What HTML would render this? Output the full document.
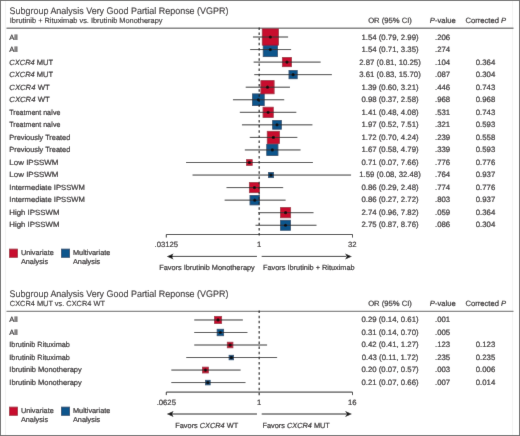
<!DOCTYPE html>
<html><head><meta charset="utf-8"><style>
html,body{margin:0;padding:0;background:#fff;}
body{width:520px;height:436px;overflow:hidden;position:relative;}
svg{position:absolute;left:0;top:0;}
text{font-family:"Liberation Sans", sans-serif;fill:#231f20;text-rendering:geometricPrecision;stroke:#231f20;stroke-width:0.2px;}
</style></head><body>
<svg width="520" height="436" viewBox="0 0 520 436">
<defs><filter id="bl" x="0" y="0" width="520" height="436" filterUnits="userSpaceOnUse"><feConvolveMatrix order="3" kernelMatrix="0.00524 0.06192 0.00524 0.06192 0.73137 0.06192 0.00524 0.06192 0.00524" edgeMode="duplicate" preserveAlpha="true"/></filter></defs>
<g filter="url(#bl)">
<rect x="0.5" y="0.5" width="519" height="435" fill="#fff" stroke="#707070" stroke-width="1"/>
<line x1="5.5" y1="1" x2="5.5" y2="435" stroke="#f3f3f3" stroke-width="1"/>
<line x1="512.5" y1="1" x2="512.5" y2="435" stroke="#f3f3f3" stroke-width="1"/>
<text transform="translate(9.60 13.80) scale(0.994 1.06)" font-size="9" text-anchor="start" style="stroke-width:0.1px">Subgroup Analysis Very Good Partial Reponse (VGPR)</text>
<text transform="translate(9.80 22.90) scale(0.994 1.0)" font-size="7.45" text-anchor="start" style="stroke-width:0.14px">Ibrutinib + Rituximab vs. Ibrutinib Monotherapy</text>
<text transform="translate(390.00 23.10) scale(1.000 1.0)" font-size="7.65" text-anchor="middle">OR (95% CI)</text>
<text transform="translate(442.80 23.10) scale(1.000 1.0)" font-size="7.65" text-anchor="middle"><tspan font-style="italic">P</tspan>-value</text>
<text transform="translate(485.80 23.10) scale(1.000 1.0)" font-size="7.65" text-anchor="middle">Corrected <tspan font-style="italic">P</tspan></text>
<line x1="6.5" y1="28.25" x2="513.5" y2="28.25" stroke="#808080" stroke-width="1.3"/>
<text transform="translate(9.30 39.70) scale(1.000 1.0)" font-size="7.55" text-anchor="start">All</text>
<text transform="translate(390.00 39.70) scale(1.000 1.0)" font-size="7.8" text-anchor="middle">1.54 (0.79, 2.99)</text>
<text transform="translate(442.60 39.70) scale(1.000 1.0)" font-size="7.8" text-anchor="middle">.206</text>
<text transform="translate(9.30 52.21) scale(1.000 1.0)" font-size="7.55" text-anchor="start">All</text>
<text transform="translate(390.00 52.21) scale(1.000 1.0)" font-size="7.8" text-anchor="middle">1.54 (0.71, 3.35)</text>
<text transform="translate(442.60 52.21) scale(1.000 1.0)" font-size="7.8" text-anchor="middle">.274</text>
<text transform="translate(9.30 64.72) scale(0.995 1.0)" font-size="7.55" text-anchor="start"><tspan font-style="italic">CXCR4</tspan> MUT</text>
<text transform="translate(390.00 64.72) scale(1.000 1.0)" font-size="7.8" text-anchor="middle">2.87 (0.81, 10.25)</text>
<text transform="translate(442.60 64.72) scale(1.000 1.0)" font-size="7.8" text-anchor="middle">.104</text>
<text transform="translate(485.50 64.72) scale(1.000 1.0)" font-size="7.8" text-anchor="middle">0.364</text>
<text transform="translate(9.30 77.23) scale(0.995 1.0)" font-size="7.55" text-anchor="start"><tspan font-style="italic">CXCR4</tspan> MUT</text>
<text transform="translate(390.00 77.23) scale(1.000 1.0)" font-size="7.8" text-anchor="middle">3.61 (0.83, 15.70)</text>
<text transform="translate(442.60 77.23) scale(1.000 1.0)" font-size="7.8" text-anchor="middle">.087</text>
<text transform="translate(485.50 77.23) scale(1.000 1.0)" font-size="7.8" text-anchor="middle">0.304</text>
<text transform="translate(9.30 89.74) scale(1.023 1.0)" font-size="7.55" text-anchor="start"><tspan font-style="italic">CXCR4</tspan> WT</text>
<text transform="translate(390.00 89.74) scale(1.000 1.0)" font-size="7.8" text-anchor="middle">1.39 (0.60, 3.21)</text>
<text transform="translate(442.60 89.74) scale(1.000 1.0)" font-size="7.8" text-anchor="middle">.446</text>
<text transform="translate(485.50 89.74) scale(1.000 1.0)" font-size="7.8" text-anchor="middle">0.743</text>
<text transform="translate(9.30 102.25) scale(1.023 1.0)" font-size="7.55" text-anchor="start"><tspan font-style="italic">CXCR4</tspan> WT</text>
<text transform="translate(390.00 102.25) scale(1.000 1.0)" font-size="7.8" text-anchor="middle">0.98 (0.37, 2.58)</text>
<text transform="translate(442.60 102.25) scale(1.000 1.0)" font-size="7.8" text-anchor="middle">.968</text>
<text transform="translate(485.50 102.25) scale(1.000 1.0)" font-size="7.8" text-anchor="middle">0.968</text>
<text transform="translate(9.30 114.76) scale(0.935 1.0)" font-size="7.55" text-anchor="start">Treatment naïve</text>
<text transform="translate(390.00 114.76) scale(1.000 1.0)" font-size="7.8" text-anchor="middle">1.41 (0.48, 4.08)</text>
<text transform="translate(442.60 114.76) scale(1.000 1.0)" font-size="7.8" text-anchor="middle">.531</text>
<text transform="translate(485.50 114.76) scale(1.000 1.0)" font-size="7.8" text-anchor="middle">0.743</text>
<text transform="translate(9.30 127.27) scale(0.935 1.0)" font-size="7.55" text-anchor="start">Treatment naïve</text>
<text transform="translate(390.00 127.27) scale(1.000 1.0)" font-size="7.8" text-anchor="middle">1.97 (0.52, 7.51)</text>
<text transform="translate(442.60 127.27) scale(1.000 1.0)" font-size="7.8" text-anchor="middle">.321</text>
<text transform="translate(485.50 127.27) scale(1.000 1.0)" font-size="7.8" text-anchor="middle">0.593</text>
<text transform="translate(9.30 139.78) scale(0.975 1.0)" font-size="7.55" text-anchor="start">Previously Treated</text>
<text transform="translate(390.00 139.78) scale(1.000 1.0)" font-size="7.8" text-anchor="middle">1.72 (0.70, 4.24)</text>
<text transform="translate(442.60 139.78) scale(1.000 1.0)" font-size="7.8" text-anchor="middle">.239</text>
<text transform="translate(485.50 139.78) scale(1.000 1.0)" font-size="7.8" text-anchor="middle">0.558</text>
<text transform="translate(9.30 152.29) scale(0.975 1.0)" font-size="7.55" text-anchor="start">Previously Treated</text>
<text transform="translate(390.00 152.29) scale(1.000 1.0)" font-size="7.8" text-anchor="middle">1.67 (0.58, 4.79)</text>
<text transform="translate(442.60 152.29) scale(1.000 1.0)" font-size="7.8" text-anchor="middle">.339</text>
<text transform="translate(485.50 152.29) scale(1.000 1.0)" font-size="7.8" text-anchor="middle">0.593</text>
<text transform="translate(9.30 164.80) scale(1.056 1.0)" font-size="7.55" text-anchor="start">Low IPSSWM</text>
<text transform="translate(390.00 164.80) scale(1.000 1.0)" font-size="7.8" text-anchor="middle">0.71 (0.07, 7.66)</text>
<text transform="translate(442.60 164.80) scale(1.000 1.0)" font-size="7.8" text-anchor="middle">.776</text>
<text transform="translate(485.50 164.80) scale(1.000 1.0)" font-size="7.8" text-anchor="middle">0.776</text>
<text transform="translate(9.30 177.31) scale(1.056 1.0)" font-size="7.55" text-anchor="start">Low IPSSWM</text>
<text transform="translate(390.00 177.31) scale(1.000 1.0)" font-size="7.8" text-anchor="middle">1.59 (0.08, 32.48)</text>
<text transform="translate(442.60 177.31) scale(1.000 1.0)" font-size="7.8" text-anchor="middle">.764</text>
<text transform="translate(485.50 177.31) scale(1.000 1.0)" font-size="7.8" text-anchor="middle">0.937</text>
<text transform="translate(9.30 189.82) scale(1.011 1.0)" font-size="7.55" text-anchor="start">Intermediate IPSSWM</text>
<text transform="translate(390.00 189.82) scale(1.000 1.0)" font-size="7.8" text-anchor="middle">0.86 (0.29, 2.48)</text>
<text transform="translate(442.60 189.82) scale(1.000 1.0)" font-size="7.8" text-anchor="middle">.774</text>
<text transform="translate(485.50 189.82) scale(1.000 1.0)" font-size="7.8" text-anchor="middle">0.776</text>
<text transform="translate(9.30 202.33) scale(1.011 1.0)" font-size="7.55" text-anchor="start">Intermediate IPSSWM</text>
<text transform="translate(390.00 202.33) scale(1.000 1.0)" font-size="7.8" text-anchor="middle">0.86 (0.27, 2.72)</text>
<text transform="translate(442.60 202.33) scale(1.000 1.0)" font-size="7.8" text-anchor="middle">.803</text>
<text transform="translate(485.50 202.33) scale(1.000 1.0)" font-size="7.8" text-anchor="middle">0.937</text>
<text transform="translate(9.30 214.84) scale(1.040 1.0)" font-size="7.55" text-anchor="start">High IPSSWM</text>
<text transform="translate(390.00 214.84) scale(1.000 1.0)" font-size="7.8" text-anchor="middle">2.74 (0.96, 7.82)</text>
<text transform="translate(442.60 214.84) scale(1.000 1.0)" font-size="7.8" text-anchor="middle">.059</text>
<text transform="translate(485.50 214.84) scale(1.000 1.0)" font-size="7.8" text-anchor="middle">0.364</text>
<text transform="translate(9.30 227.35) scale(1.040 1.0)" font-size="7.55" text-anchor="start">High IPSSWM</text>
<text transform="translate(390.00 227.35) scale(1.000 1.0)" font-size="7.8" text-anchor="middle">2.75 (0.87, 8.76)</text>
<text transform="translate(442.60 227.35) scale(1.000 1.0)" font-size="7.8" text-anchor="middle">.086</text>
<text transform="translate(485.50 227.35) scale(1.000 1.0)" font-size="7.8" text-anchor="middle">0.304</text>
<rect x="263.20" y="42.45" width="14.20" height="14.20" fill="#0f558c" stroke="#0b3d63" stroke-width="0.8"/>
<rect x="289.00" y="70.55" width="8.20" height="8.20" fill="#0f558c" stroke="#0b3d63" stroke-width="0.8"/>
<rect x="252.50" y="93.90" width="11.70" height="11.70" fill="#0f558c" stroke="#0b3d63" stroke-width="0.8"/>
<rect x="272.65" y="120.50" width="8.70" height="8.70" fill="#0f558c" stroke="#0b3d63" stroke-width="0.8"/>
<rect x="266.75" y="144.35" width="11.20" height="11.20" fill="#0f558c" stroke="#0b3d63" stroke-width="0.8"/>
<rect x="268.40" y="172.45" width="5.20" height="5.20" fill="#0f558c" stroke="#0b3d63" stroke-width="0.8"/>
<rect x="250.00" y="195.40" width="9.50" height="9.50" fill="#0f558c" stroke="#0b3d63" stroke-width="0.8"/>
<rect x="280.50" y="220.25" width="10.00" height="10.00" fill="#0f558c" stroke="#0b3d63" stroke-width="0.8"/>
<rect x="262.25" y="28.90" width="16.20" height="16.20" fill="#c8102e" stroke="#9a0f2c" stroke-width="0.8"/>
<rect x="282.35" y="57.50" width="9.20" height="9.20" fill="#c8102e" stroke="#9a0f2c" stroke-width="0.8"/>
<rect x="260.90" y="80.60" width="13.20" height="13.20" fill="#c8102e" stroke="#9a0f2c" stroke-width="0.8"/>
<rect x="263.05" y="107.20" width="10.20" height="10.20" fill="#c8102e" stroke="#9a0f2c" stroke-width="0.8"/>
<rect x="267.25" y="131.30" width="12.20" height="12.20" fill="#c8102e" stroke="#9a0f2c" stroke-width="0.8"/>
<rect x="246.50" y="159.65" width="5.70" height="5.70" fill="#c8102e" stroke="#9a0f2c" stroke-width="0.8"/>
<rect x="249.35" y="182.50" width="10.20" height="10.20" fill="#c8102e" stroke="#9a0f2c" stroke-width="0.8"/>
<rect x="280.45" y="207.60" width="10.20" height="10.20" fill="#c8102e" stroke="#9a0f2c" stroke-width="0.8"/>
<line x1="252.98" y1="37.00" x2="288.12" y2="37.00" stroke="#333" stroke-width="1"/>
<line x1="250.16" y1="49.55" x2="291.12" y2="49.55" stroke="#333" stroke-width="1"/>
<line x1="253.64" y1="62.10" x2="320.64" y2="62.10" stroke="#333" stroke-width="1"/>
<line x1="254.28" y1="74.65" x2="331.90" y2="74.65" stroke="#333" stroke-width="1"/>
<line x1="245.71" y1="87.20" x2="289.99" y2="87.20" stroke="#333" stroke-width="1"/>
<line x1="232.95" y1="99.75" x2="284.22" y2="99.75" stroke="#333" stroke-width="1"/>
<line x1="239.82" y1="112.30" x2="296.32" y2="112.30" stroke="#333" stroke-width="1"/>
<line x1="241.94" y1="124.85" x2="312.43" y2="124.85" stroke="#333" stroke-width="1"/>
<line x1="249.78" y1="137.40" x2="297.34" y2="137.40" stroke="#333" stroke-width="1"/>
<line x1="244.82" y1="149.95" x2="300.56" y2="149.95" stroke="#333" stroke-width="1"/>
<line x1="186.00" y1="162.50" x2="312.95" y2="162.50" stroke="#333" stroke-width="1"/>
<line x1="192.52" y1="175.05" x2="351.09" y2="175.05" stroke="#333" stroke-width="1"/>
<line x1="226.52" y1="187.60" x2="283.18" y2="187.60" stroke="#333" stroke-width="1"/>
<line x1="224.63" y1="200.15" x2="285.62" y2="200.15" stroke="#333" stroke-width="1"/>
<line x1="258.12" y1="212.70" x2="313.50" y2="212.70" stroke="#333" stroke-width="1"/>
<line x1="255.52" y1="225.25" x2="316.50" y2="225.25" stroke="#333" stroke-width="1"/>
<line x1="259.2" y1="27.45" x2="259.2" y2="237.7" stroke="#1a1a1a" stroke-width="1.2" stroke-dasharray="2.5 2.64"/>
<circle cx="270.35" cy="37.00" r="1.6" fill="#111"/>
<circle cx="270.30" cy="49.55" r="1.6" fill="#111"/>
<circle cx="286.95" cy="62.10" r="1.6" fill="#111"/>
<circle cx="293.10" cy="74.65" r="1.6" fill="#111"/>
<circle cx="267.50" cy="87.20" r="1.6" fill="#111"/>
<circle cx="258.35" cy="99.75" r="1.6" fill="#111"/>
<circle cx="268.15" cy="112.30" r="1.6" fill="#111"/>
<circle cx="277.00" cy="124.85" r="1.6" fill="#111"/>
<circle cx="273.35" cy="137.40" r="1.6" fill="#111"/>
<circle cx="272.35" cy="149.95" r="1.6" fill="#111"/>
<circle cx="249.35" cy="162.50" r="1.6" fill="#111"/>
<circle cx="271.00" cy="175.05" r="1.6" fill="#111"/>
<circle cx="254.45" cy="187.60" r="1.6" fill="#111"/>
<circle cx="254.75" cy="200.15" r="1.6" fill="#111"/>
<circle cx="285.55" cy="212.70" r="1.6" fill="#111"/>
<circle cx="285.50" cy="225.25" r="1.6" fill="#111"/>
<path d="M166.3 237.5 V234.5 H352.5 V237.5" fill="none" stroke="#222" stroke-width="1"/>
<text transform="translate(166.30 246.90) scale(1.000 1.0)" font-size="7.7" text-anchor="middle">.03125</text>
<text transform="translate(259.20 246.90) scale(1.000 1.0)" font-size="7.7" text-anchor="middle">1</text>
<text transform="translate(352.30 246.90) scale(1.000 1.0)" font-size="7.7" text-anchor="middle">32</text>
<line x1="172" y1="256.4" x2="257" y2="256.4" stroke="#222" stroke-width="1"/>
<path d="M166.8 256.4 L173.5 253.39999999999998 L172 256.4 L173.5 259.4 Z" fill="#111"/>
<line x1="261.7" y1="256.4" x2="346" y2="256.4" stroke="#222" stroke-width="1"/>
<path d="M351.9 256.4 L345.2 253.39999999999998 L346.7 256.4 L345.2 259.4 Z" fill="#111"/>
<text transform="translate(159.20 269.80) scale(1.000 1.0)" font-size="7.35" text-anchor="start">Favors Ibrutinib Monotherapy</text>
<text transform="translate(263.00 269.80) scale(1.000 1.0)" font-size="7.35" text-anchor="start">Favors Ibrutinib + Rituximab</text>
<rect x="9.4" y="249.1" width="8.2" height="8.2" fill="#c8102e" stroke="#9a0f2c" stroke-width="0.8"/>
<rect x="61.4" y="249.1" width="8.2" height="8.2" fill="#0f558c" stroke="#0b3d63" stroke-width="0.8"/>
<text transform="translate(20.90 254.50) scale(1.000 1.0)" font-size="7.3" text-anchor="start">Univariate</text>
<text transform="translate(20.90 263.80) scale(1.000 1.0)" font-size="7.3" text-anchor="start">Analysis</text>
<text transform="translate(73.00 254.50) scale(1.000 1.0)" font-size="7.3" text-anchor="start">Multivariate</text>
<text transform="translate(73.00 263.80) scale(1.000 1.0)" font-size="7.3" text-anchor="start">Analysis</text>
<text transform="translate(9.60 296.90) scale(0.994 1.06)" font-size="9" text-anchor="start" style="stroke-width:0.1px">Subgroup Analysis Very Good Partial Reponse (VGPR)</text>
<text transform="translate(9.80 306.00) scale(0.994 1.0)" font-size="7.45" text-anchor="start" style="stroke-width:0.14px">CXCR4 MUT vs. CXCR4 WT</text>
<text transform="translate(390.00 306.20) scale(1.000 1.0)" font-size="7.65" text-anchor="middle">OR (95% CI)</text>
<text transform="translate(442.80 306.20) scale(1.000 1.0)" font-size="7.65" text-anchor="middle"><tspan font-style="italic">P</tspan>-value</text>
<text transform="translate(485.80 306.20) scale(1.000 1.0)" font-size="7.65" text-anchor="middle">Corrected <tspan font-style="italic">P</tspan></text>
<line x1="6.5" y1="311.35" x2="513.5" y2="311.35" stroke="#808080" stroke-width="1.3"/>
<text transform="translate(9.30 322.15) scale(1.000 1.0)" font-size="7.55" text-anchor="start">All</text>
<text transform="translate(390.00 322.15) scale(1.000 1.0)" font-size="7.8" text-anchor="middle">0.29 (0.14, 0.61)</text>
<text transform="translate(442.60 322.15) scale(1.000 1.0)" font-size="7.8" text-anchor="middle">.001</text>
<text transform="translate(9.30 334.70) scale(1.000 1.0)" font-size="7.55" text-anchor="start">All</text>
<text transform="translate(390.00 334.70) scale(1.000 1.0)" font-size="7.8" text-anchor="middle">0.31 (0.14, 0.70)</text>
<text transform="translate(442.60 334.70) scale(1.000 1.0)" font-size="7.8" text-anchor="middle">.005</text>
<text transform="translate(9.30 347.25) scale(0.969 1.0)" font-size="7.55" text-anchor="start">Ibrutinib Rituximab</text>
<text transform="translate(390.00 347.25) scale(1.000 1.0)" font-size="7.8" text-anchor="middle">0.42 (0.41, 1.27)</text>
<text transform="translate(442.60 347.25) scale(1.000 1.0)" font-size="7.8" text-anchor="middle">.123</text>
<text transform="translate(485.50 347.25) scale(1.000 1.0)" font-size="7.8" text-anchor="middle">0.123</text>
<text transform="translate(9.30 359.80) scale(0.969 1.0)" font-size="7.55" text-anchor="start">Ibrutinib Rituximab</text>
<text transform="translate(390.00 359.80) scale(1.000 1.0)" font-size="7.8" text-anchor="middle">0.43 (0.11, 1.72)</text>
<text transform="translate(442.60 359.80) scale(1.000 1.0)" font-size="7.8" text-anchor="middle">.235</text>
<text transform="translate(485.50 359.80) scale(1.000 1.0)" font-size="7.8" text-anchor="middle">0.235</text>
<text transform="translate(9.30 372.35) scale(0.993 1.0)" font-size="7.55" text-anchor="start">Ibrutinib Monotherapy</text>
<text transform="translate(390.00 372.35) scale(1.000 1.0)" font-size="7.8" text-anchor="middle">0.20 (0.07, 0.57)</text>
<text transform="translate(442.60 372.35) scale(1.000 1.0)" font-size="7.8" text-anchor="middle">.003</text>
<text transform="translate(485.50 372.35) scale(1.000 1.0)" font-size="7.8" text-anchor="middle">0.006</text>
<text transform="translate(9.30 384.90) scale(0.993 1.0)" font-size="7.55" text-anchor="start">Ibrutinib Monotherapy</text>
<text transform="translate(390.00 384.90) scale(1.000 1.0)" font-size="7.8" text-anchor="middle">0.21 (0.07, 0.66)</text>
<text transform="translate(442.60 384.90) scale(1.000 1.0)" font-size="7.8" text-anchor="middle">.007</text>
<text transform="translate(485.50 384.90) scale(1.000 1.0)" font-size="7.8" text-anchor="middle">0.014</text>
<rect x="217.15" y="329.24" width="6.50" height="6.50" fill="#0f558c" stroke="#0b3d63" stroke-width="0.8"/>
<rect x="229.10" y="355.28" width="4.50" height="4.50" fill="#0f558c" stroke="#0b3d63" stroke-width="0.8"/>
<rect x="205.55" y="380.27" width="4.60" height="4.60" fill="#0f558c" stroke="#0b3d63" stroke-width="0.8"/>
<rect x="214.45" y="316.37" width="7.20" height="7.20" fill="#c8102e" stroke="#9a0f2c" stroke-width="0.8"/>
<rect x="227.30" y="342.21" width="5.60" height="5.60" fill="#c8102e" stroke="#9a0f2c" stroke-width="0.8"/>
<rect x="202.55" y="367.15" width="5.80" height="5.80" fill="#c8102e" stroke="#9a0f2c" stroke-width="0.8"/>
<line x1="194.24" y1="319.97" x2="242.87" y2="319.97" stroke="#333" stroke-width="1"/>
<line x1="194.24" y1="332.49" x2="247.42" y2="332.49" stroke="#333" stroke-width="1"/>
<line x1="194.24" y1="345.01" x2="267.10" y2="345.01" stroke="#333" stroke-width="1"/>
<line x1="186.28" y1="357.53" x2="277.12" y2="357.53" stroke="#333" stroke-width="1"/>
<line x1="171.34" y1="370.05" x2="240.63" y2="370.05" stroke="#333" stroke-width="1"/>
<line x1="171.34" y1="382.57" x2="245.47" y2="382.57" stroke="#333" stroke-width="1"/>
<line x1="259.2" y1="310.55" x2="259.2" y2="395.3" stroke="#1a1a1a" stroke-width="1.2" stroke-dasharray="2.5 2.64"/>
<circle cx="218.05" cy="319.97" r="1.6" fill="#111"/>
<circle cx="220.40" cy="332.49" r="1.6" fill="#111"/>
<circle cx="230.10" cy="345.01" r="1.6" fill="#111"/>
<circle cx="231.35" cy="357.53" r="1.6" fill="#111"/>
<circle cx="205.45" cy="370.05" r="1.6" fill="#111"/>
<circle cx="207.85" cy="382.57" r="1.6" fill="#111"/>
<path d="M166.3 395.1 V392.1 H352.5 V395.1" fill="none" stroke="#222" stroke-width="1"/>
<text transform="translate(166.30 404.80) scale(1.000 1.0)" font-size="7.7" text-anchor="middle">.0625</text>
<text transform="translate(259.20 404.80) scale(1.000 1.0)" font-size="7.7" text-anchor="middle">1</text>
<text transform="translate(352.30 404.80) scale(1.000 1.0)" font-size="7.7" text-anchor="middle">16</text>
<line x1="172" y1="414.0" x2="257" y2="414.0" stroke="#222" stroke-width="1"/>
<path d="M166.8 414.0 L173.5 411.0 L172 414.0 L173.5 417.0 Z" fill="#111"/>
<line x1="261.7" y1="414.0" x2="346" y2="414.0" stroke="#222" stroke-width="1"/>
<path d="M351.9 414.0 L345.2 411.0 L346.7 414.0 L345.2 417.0 Z" fill="#111"/>
<text transform="translate(175.30 427.50) scale(1.000 1.0)" font-size="7.35" text-anchor="start">Favors <tspan font-style="italic">CXCR4</tspan> WT</text>
<text transform="translate(262.50 427.50) scale(1.000 1.0)" font-size="7.35" text-anchor="start">Favors <tspan font-style="italic">CXCR4</tspan> MUT</text>
<rect x="9.4" y="407.09999999999997" width="8.2" height="8.2" fill="#c8102e" stroke="#9a0f2c" stroke-width="0.8"/>
<rect x="61.4" y="407.09999999999997" width="8.2" height="8.2" fill="#0f558c" stroke="#0b3d63" stroke-width="0.8"/>
<text transform="translate(20.90 412.50) scale(1.000 1.0)" font-size="7.3" text-anchor="start">Univariate</text>
<text transform="translate(20.90 421.80) scale(1.000 1.0)" font-size="7.3" text-anchor="start">Analysis</text>
<text transform="translate(73.00 412.50) scale(1.000 1.0)" font-size="7.3" text-anchor="start">Multivariate</text>
<text transform="translate(73.00 421.80) scale(1.000 1.0)" font-size="7.3" text-anchor="start">Analysis</text>
</g>
</svg>
</body></html>
